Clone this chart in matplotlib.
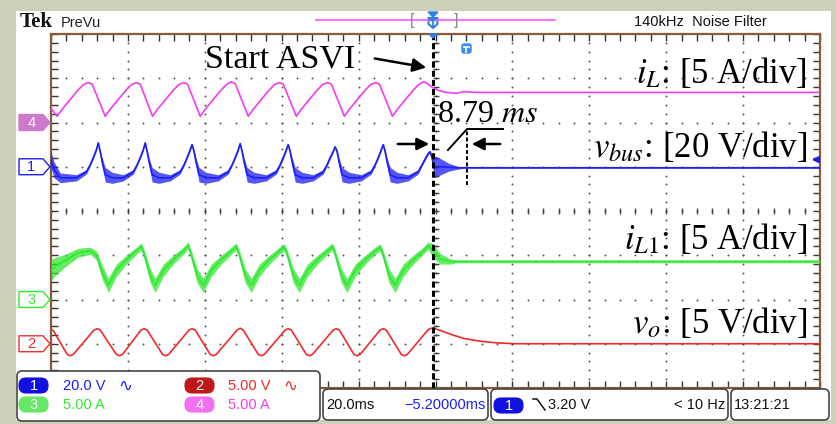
import matplotlib
matplotlib.use("Agg")
import matplotlib.pyplot as plt
from matplotlib.patches import FancyBboxPatch, Polygon, Rectangle
from matplotlib.transforms import blended_transform_factory
import numpy as np

# ---------------- scope settings / data ----------------
time_per_div = 20.0        # ms/div
t_left = -99.4             # ms at left graticule edge (t = 0 : start of ASVI)
n_xdiv, n_ydiv = 10, 8
scale = {'iL': 5.0, 'vbus': 20.0, 'iL1': 5.0, 'vo': 5.0}      # units / div
offset = {'iL': 2.0, 'vbus': 1.0, 'iL1': -2.0, 'vo': -3.0}    # ground marker (div)
trig_level = 3.20          # V on ch1
delta_t = 8.79             # ms settling time

# ch4  i_L  [A]
iL_t = [-99.4,
        -97.8, -96.5, -94.4, -92.3, -90.9, -89.7, -88.7,
        -85.3, -84.0, -81.9, -79.8, -78.4, -77.2, -76.2,
        -73.0, -71.7, -69.6, -67.5, -66.1, -64.9, -63.9,
        -60.6, -59.3, -57.2, -55.1, -53.7, -52.5, -51.5,
        -48.1, -46.8, -44.7, -42.6, -41.2, -40.0, -39.0,
        -35.6, -34.3, -32.2, -30.1, -28.7, -27.5, -26.5,
        -23.1, -21.8, -19.7, -17.6, -16.2, -15.0, -14.0,
        -10.6, -9.3, -7.2, -5.1, -3.7, -2.5, -1.5,
        0.0, 1.5, 3.5, 6.0, 8.0, 9.0, 11.0, 100.6]
iL_v = [1.6,
        0.7, 1.5, 2.6, 3.7, 4.3, 4.5, 4.35,
        0.7, 1.5, 2.6, 3.7, 4.3, 4.5, 4.35,
        0.7, 1.5, 2.6, 3.7, 4.3, 4.5, 4.35,
        0.7, 1.5, 2.6, 3.7, 4.3, 4.6, 4.4,
        0.7, 1.5, 2.6, 3.7, 4.3, 4.5, 4.35,
        0.7, 1.5, 2.6, 3.7, 4.3, 4.5, 4.35,
        0.7, 1.5, 2.6, 3.7, 4.3, 4.5, 4.35,
        0.7, 1.5, 2.6, 3.7, 4.3, 4.6, 4.4,
        3.9, 3.6, 3.4, 3.3, 3.5, 3.45, 3.4, 3.4]

# ch1  v_bus  [V]  centre line and noise half-width
vbus_t = [-99.4, -98.6, -97.0,
          -92.8, -90.2, -89.2, -88.4, -87.6, -87.1, -86.6, -86.1, -85.3, -83.5,
          -80.6, -78.0, -77.0, -76.2, -75.4, -74.9, -74.4, -73.9, -73.1, -71.3,
          -68.4, -65.8, -64.8, -64.0, -63.2, -62.7, -62.2, -61.7, -60.9, -59.1,
          -55.9, -53.3, -52.3, -51.5, -50.7, -50.2, -49.7, -49.2, -48.4, -46.6,
          -43.4, -40.8, -39.8, -39.0, -38.2, -37.7, -37.2, -36.7, -35.9, -34.1,
          -31.2, -28.6, -27.6, -26.8, -26.0, -25.5, -25.0, -24.5, -23.7, -21.9,
          -18.7, -16.1, -15.1, -14.3, -13.5, -13.0, -12.5, -12.0, -11.2, -9.4,
          -6.5, -3.9, -2.9, -2.1, -1.3, -0.8, -0.3, 0.2, 2.0, 4.0, 6.5, 8.3, 100.6]
vbus_v = [3.2, -1.4, -5.0,
          -5.0, -2.3, 0.9, 4.1, 7.7, 10.8, 6.8, 2.3, -3.6, -5.0,
          -5.0, -2.3, 0.9, 4.1, 7.7, 10.8, 6.8, 2.3, -3.6, -5.0,
          -5.0, -2.3, 0.9, 4.1, 7.7, 10.0, 6.8, 2.3, -3.6, -5.0,
          -5.0, -2.3, 0.9, 4.1, 7.7, 10.5, 6.8, 2.3, -3.6, -5.0,
          -5.0, -2.3, 0.9, 4.1, 7.7, 10.0, 6.8, 2.3, -3.6, -5.0,
          -5.0, -2.3, 0.9, 4.1, 7.0, 9.0, 6.8, 2.3, -3.6, -5.0,
          -5.0, -2.3, 0.9, 4.1, 7.7, 10.0, 6.8, 2.3, -3.6, -5.0,
          -5.0, -2.3, 0.9, 3.5, 6.0, 6.8, 4.0, 0.0, 0.0, -0.2, -0.45, -0.45, -0.45]
vbus_n = [3.6, 3.6, 2.2,
          1.4, 1.0, 0.6, 0.6, 0.6, 0.3, 1.0, 1.8, 3.3, 2.5,
          1.4, 1.0, 0.6, 0.6, 0.6, 0.3, 1.0, 1.8, 3.3, 2.5,
          1.4, 1.0, 0.6, 0.6, 0.6, 0.3, 1.0, 1.8, 3.3, 2.5,
          1.4, 1.0, 0.6, 0.6, 0.6, 0.3, 1.0, 1.8, 3.3, 2.5,
          1.4, 1.0, 0.6, 0.6, 0.6, 0.3, 1.0, 1.8, 3.3, 2.5,
          1.4, 1.0, 0.6, 0.6, 0.6, 0.3, 1.0, 1.8, 3.3, 2.5,
          1.4, 1.0, 0.6, 0.6, 0.6, 0.3, 1.0, 1.8, 3.3, 2.5,
          1.4, 1.0, 0.6, 0.6, 0.6, 0.3, 1.6, 5.0, 3.6, 1.8, 0.6, 0.2, 0.2]

# ch3  i_L1  [A]  centre line and noise half-width
iL1_t = [-99.4, -98.1, -95.7, -92.3, -89.2, -87.6, -86.1,
         -84.5, -82.4, -79.8, -77.2, -75.9, -75.1, -73.6,
         -72.3, -70.2, -67.6, -65.0, -63.7, -62.9, -61.4,
         -59.8, -57.7, -55.1, -52.5, -51.2, -50.4, -48.9,
         -47.3, -45.2, -42.6, -40.0, -38.7, -37.9, -36.4,
         -34.8, -32.7, -30.1, -27.5, -26.2, -25.4, -23.9,
         -22.4, -20.3, -17.7, -15.1, -13.8, -13.0, -11.5,
         -9.9, -7.8, -5.2, -2.6, -1.3, 0.0, 1.8, 4.4, 6.0, 100.6]
iL1_v = [3.3, 3.8, 4.4, 5.3, 5.5, 5.0, 3.1,
         1.6, 3.3, 4.5, 5.5, 6.0, 5.0, 2.7,
         1.6, 3.3, 4.5, 5.5, 6.1, 5.0, 2.7,
         1.6, 3.3, 4.5, 5.5, 6.0, 5.0, 2.7,
         1.6, 3.3, 4.5, 5.5, 5.9, 5.0, 2.7,
         1.6, 3.3, 4.5, 5.5, 6.0, 5.0, 2.7,
         1.6, 3.3, 4.5, 5.5, 5.9, 5.0, 2.7,
         1.6, 3.3, 4.5, 5.5, 6.1, 5.5, 4.6, 4.3, 4.3, 4.3]
iL1_n = [1.2, 1.0, 0.7, 0.5, 0.4, 0.5, 0.8,
         0.8, 0.7, 0.5, 0.4, 0.4, 0.5, 0.8,
         0.8, 0.7, 0.5, 0.4, 0.4, 0.5, 0.8,
         0.8, 0.7, 0.5, 0.4, 0.4, 0.5, 0.8,
         0.8, 0.7, 0.5, 0.4, 0.4, 0.5, 0.8,
         0.8, 0.7, 0.5, 0.4, 0.4, 0.5, 0.8,
         0.8, 0.7, 0.5, 0.4, 0.4, 0.5, 0.8,
         0.8, 0.7, 0.5, 0.4, 0.4, 0.8, 0.6, 0.3, 0.15, 0.15]

# ch2  v_o  [V]
vo_t = [-99.4, -98.8,
        -95.2, -94.4, -93.6, -88.2, -87.4, -86.6,
        -82.4, -81.6, -80.8, -76.0, -75.2, -74.4,
        -70.4, -69.6, -68.8, -63.5, -62.7, -61.9,
        -58.0, -57.2, -56.4, -51.0, -50.2, -49.4,
        -45.5, -44.7, -43.9, -38.5, -37.7, -36.9,
        -33.0, -32.2, -31.4, -26.0, -25.2, -24.4,
        -20.6, -19.8, -19.0, -13.8, -13.0, -12.2,
        -8.3, -7.5, -6.7, -1.3, -0.5, 0.5, 2.5, 5.0, 8.0, 12.0, 16.0, 21.0, 100.6]
vo_v = [1.6, 1.5,
        -1.2, -1.36, -1.2, 1.55, 1.7, 1.55,
        -1.2, -1.36, -1.2, 1.55, 1.7, 1.55,
        -1.2, -1.36, -1.2, 1.55, 1.7, 1.55,
        -1.2, -1.36, -1.2, 1.55, 1.75, 1.55,
        -1.2, -1.36, -1.2, 1.55, 1.7, 1.55,
        -1.2, -1.36, -1.2, 1.55, 1.7, 1.55,
        -1.2, -1.36, -1.2, 1.55, 1.7, 1.55,
        -1.2, -1.36, -1.2, 1.6, 1.75, 1.7, 1.4, 1.0, 0.6, 0.3, 0.12, 0.0, 0.0]

C = {'iL': '#f23cf2', 'vbus': '#1e1ef5', 'iL1': '#30e830', 'vo': '#f22a2a'}
C4_fill = '#cc7acc'

# ---------------- figure ----------------
W, H = 837, 424
plt.rcParams['mathtext.fontset'] = 'stix'
plt.rcParams['font.family'] = ['Liberation Sans', 'DejaVu Sans']
fig = plt.figure(figsize=(W / 100, H / 100), dpi=100)
fig.patch.set_facecolor('#cdd0b9')

bg = fig.add_axes([0, 0, 1, 1], zorder=0)
bg.set_xlim(0, W); bg.set_ylim(H, 0); bg.axis('off')
bg.add_patch(Rectangle((16, 11), 815, 409, facecolor='white', edgecolor='none'))

GL, GT, GR, GB = 51, 34, 820, 388
ax = fig.add_axes([GL / W, 1 - GB / H, (GR - GL) / W, (GB - GT) / H], zorder=1)
t_right = t_left + n_xdiv * time_per_div
ax.set_xlim(t_left, t_right)
ax.set_ylim(-n_ydiv / 2, n_ydiv / 2)
ax.set_facecolor('white')
for s in ax.spines.values():
    s.set_color('#8a5a3a'); s.set_linewidth(1.6)
xmaj = t_left + time_per_div * np.arange(0, n_xdiv + 1)
xmin = t_left + time_per_div / 5 * np.arange(0, 5 * n_xdiv + 1)
ymaj = np.arange(-n_ydiv / 2, n_ydiv / 2 + 1)
ymin = np.arange(-n_ydiv / 2, n_ydiv / 2 + 0.01, 0.2)
ax.set_xticks(xmaj); ax.set_xticks(xmin, minor=True)
ax.set_yticks(ymaj); ax.set_yticks(ymin, minor=True)
ax.tick_params(which='both', direction='in', top=True, right=True, length=5,
               width=1.0, color='#333333', labelbottom=False, labelleft=False)

# dotted graticule
for xv in xmaj[1:-1]:
    ax.plot(np.full(ymin.size, xv), ymin, ls='none', marker='o', ms=1.4,
            color='#555555', mec='none', zorder=1)
for yv in ymaj[1:-1]:
    ax.plot(xmin, np.full(xmin.size, yv), ls='none', marker='o', ms=1.4,
            color='#555555', mec='none', zorder=1)
xc = t_left + time_per_div * n_xdiv / 2
ax.plot(xmin, np.zeros(xmin.size), ls='none', marker='|', ms=5, mew=1.0, color='#444444', zorder=1)
ax.plot(np.full(ymin.size, xc), ymin, ls='none', marker='_', ms=5, mew=1.0, color='#444444', zorder=1)

# traces
def Y(key, vals):
    return offset[key] + np.asarray(vals, dtype=float) / scale[key]

lw = 1.2
ax.plot(iL_t, Y('iL', iL_v), color=C['iL'], lw=lw, zorder=3)
vb_c, vb_n = np.asarray(vbus_v), np.asarray(vbus_n)
ax.fill_between(vbus_t, Y('vbus', vb_c - vb_n), Y('vbus', vb_c + vb_n), color=C['vbus'],
                alpha=0.75, lw=0, zorder=3)
ax.plot(vbus_t, Y('vbus', vb_c), color=C['vbus'], lw=lw, zorder=3)
g_c, g_n = np.asarray(iL1_v), np.asarray(iL1_n)
ax.fill_between(iL1_t, Y('iL1', g_c - g_n), Y('iL1', g_c + g_n), color=C['iL1'],
                alpha=0.75, lw=0, zorder=3)
ax.plot(iL1_t, Y('iL1', g_c), color=C['iL1'], lw=lw, zorder=3)
ax.plot(vo_t, Y('vo', vo_v), color=C['vo'], lw=lw, zorder=3)

# start of ASVI + settling marker
ax.axvline(0.0, color='black', lw=2.2, ls=(0, (2, 1)), zorder=5)
ax.plot([delta_t, delta_t], [0.59, 1.85], color='black', lw=1.4, ls=(0, (2, 1.2)), zorder=5)

# channel ground markers (left) and trigger level (right)
bt = blended_transform_factory(ax.transAxes, ax.transData)
def ch_marker(yv, label, col, filled):
    x0, x1, x2 = -0.0416, -0.0105, -0.0013
    h = 0.18
    poly = Polygon([(x0, yv - h), (x1, yv - h), (x2, yv), (x1, yv + h), (x0, yv + h)],
                   closed=True, transform=bt, clip_on=False, zorder=6,
                   facecolor=col if filled else 'white', edgecolor=col, lw=1.0)
    ax.add_patch(poly)
    ax.text(-0.0255, yv, label, transform=bt, ha='center', va='center', fontsize=10.5,
            color='white' if filled else col, clip_on=False, zorder=7)
ch_marker(offset['iL'], '4', C4_fill, True)
ch_marker(offset['vbus'], '1', C['vbus'], False)
ch_marker(offset['iL1'], '3', C['iL1'], False)
ch_marker(offset['vo'], '2', C['vo'], False)
ytr = offset['vbus'] + trig_level / scale['vbus']
ax.annotate('', xy=(0.9855, ytr), xycoords=bt, xytext=(1.0, ytr), textcoords=bt,
            arrowprops=dict(arrowstyle='-|>', color=C['vbus'], lw=1.5, mutation_scale=9),
            zorder=7)

# ---------------- foreground (pixel) layer ----------------
fg = fig.add_axes([0, 0, 1, 1], zorder=2)
fg.set_xlim(0, W); fg.set_ylim(H, 0); fg.axis('off'); fg.patch.set_alpha(0)
SANS = ['Liberation Sans', 'DejaVu Sans']
SERIF = ['Liberation Serif', 'DejaVu Serif']

# header
fg.text(20, 27, 'Tek', fontfamily=SERIF, fontweight='bold', fontsize=15, color='#111111')
fg.text(61, 27, 'PreVu', fontfamily=SANS, fontsize=10.5, color='#222222')
fg.plot([316, 555], [20, 20], color='#ff55ff', lw=1.2)
fg.text(412, 20, '[', fontfamily=SANS, fontsize=12, color='#888888', ha='center', va='center')
fg.text(456, 20, ']', fontfamily=SANS, fontsize=12, color='#888888', ha='center', va='center')
fg.add_patch(Polygon([(428, 12), (438, 12), (433, 17)], closed=True, color='#2f7fe8'))
fg.add_patch(Polygon([(428.5, 18), (437.5, 18), (437.5, 24), (433, 28), (428.5, 24)], closed=True,
                     facecolor='white', edgecolor='#2f7fe8', lw=1.5))
fg.plot([430.5, 435.5], [20, 20], color='#2f7fe8', lw=1.3)
fg.plot([433, 433], [20, 26], color='#2f7fe8', lw=1.3)
fg.add_patch(Polygon([(429, 34), (437, 34), (433, 38)], closed=True, color='#2f7fe8', zorder=5))
fg.text(634, 26, '140kHz  Noise Filter', fontfamily=SANS, fontsize=10.5, color='#111111')
# small expansion-point marker
fg.add_patch(FancyBboxPatch((462, 44), 9, 9, boxstyle='round,pad=0,rounding_size=2',
                            facecolor='#3a8ef0', edgecolor='#3a8ef0'))
fg.plot([464, 469], [46.5, 46.5], color='white', lw=1.2)
fg.plot([466.5, 466.5], [46.5, 52], color='white', lw=1.2)

# annotations
fg.text(205, 68, 'Start ASVI', fontfamily=SERIF, fontsize=24.5, color='black')
fg.annotate('', xy=(429, 68), xytext=(372, 58),
            arrowprops=dict(arrowstyle='-|>', color='black', lw=1.8, mutation_scale=20))
fg.text(437, 122, '8.79 $ms$', fontfamily=SERIF, fontsize=23, color='black')
fg.annotate('', xy=(432, 144), xytext=(395, 144),
            arrowprops=dict(arrowstyle='-|>', color='black', lw=1.8, mutation_scale=18))
fg.annotate('', xy=(469, 144), xytext=(503, 144),
            arrowprops=dict(arrowstyle='-|>', color='black', lw=1.8, mutation_scale=18))
fg.plot([448, 467, 503], [150, 129, 129], color='black', lw=1.4)

labels = [(83, r'$i_L$: [5 A/div]'), (157, r'$v_{bus}$: [20 V/div]'),
          (249, r'$i_{L1}$: [5 A/div]'), (333, r'$v_o$: [5 V/div]')]
for yb, s in labels:
    fg.text(807, yb, s, fontfamily=SERIF, fontsize=25, color='black', ha='right', va='baseline')

# bottom status boxes
def box(x0, y0, x1, y1, ec='#444444'):
    fg.add_patch(FancyBboxPatch((x0, y0), x1 - x0, y1 - y0,
                                boxstyle='round,pad=0,rounding_size=5',
                                facecolor='white', edgecolor=ec, lw=1.2))
def pill(x0, y0, col, label):
    fg.add_patch(FancyBboxPatch((x0, y0), 29, 15, boxstyle='round,pad=0,rounding_size=7',
                                facecolor=col, edgecolor=col, lw=0.8))
    fg.text(x0 + 14.5, y0 + 7.8, label, fontfamily=SANS, fontsize=10.5, color='white',
            ha='center', va='center')

box(17, 371, 320, 421)
pill(19, 378, '#1010e0', '1')
fg.text(63, 385.5, '20.0 V', fontfamily=SANS, fontsize=10.5, color=C['vbus'], va='center')
fg.text(118, 385.5, '\u223f', fontfamily=['DejaVu Sans'], fontsize=12, color=C['vbus'], va='center')
pill(185, 378, '#c01818', '2')
fg.text(228, 385.5, '5.00 V', fontfamily=SANS, fontsize=10.5, color=C['vo'], va='center')
fg.text(283, 385.5, '\u223f', fontfamily=['DejaVu Sans'], fontsize=12, color=C['vo'], va='center')
pill(19, 397, '#66e866', '3')
fg.text(63, 405, '5.00 A', fontfamily=SANS, fontsize=10.5, color=C['iL1'], va='center')
pill(185, 397, '#f070f0', '4')
fg.text(228, 405, '5.00 A', fontfamily=SANS, fontsize=10.5, color=C['iL'], va='center')

box(323, 389, 488, 420)
fg.text(326, 405, '20.0ms', fontfamily=SANS, fontsize=10.5, color='#111111', va='center')
fg.text(486, 405, '\u22125.20000ms', fontfamily=SANS, fontsize=10.5, color='#1e1ef5',
        va='center', ha='right')
box(491, 389, 728, 420)
pill(494, 398, '#1010e0', '1')
fg.plot([533, 537, 545], [399, 399, 410], color='#111111', lw=1.1)
fg.text(548, 405, '3.20 V', fontfamily=SANS, fontsize=10.5, color='#111111', va='center')
fg.text(725, 405, '< 10 Hz', fontfamily=SANS, fontsize=10.5, color='#111111', va='center', ha='right')
box(731, 389, 829, 420)
fg.text(734, 405, '13:21:21', fontfamily=SANS, fontsize=10.5, color='#111111', va='center')

fig.savefig('out.png', dpi=100, facecolor=fig.get_facecolor())
